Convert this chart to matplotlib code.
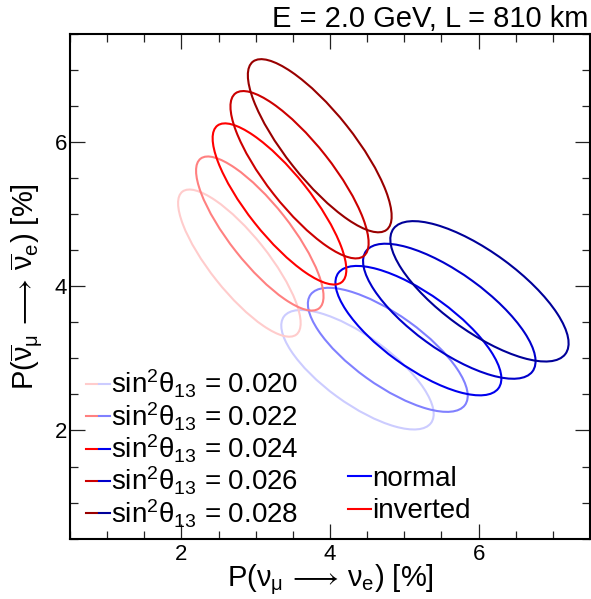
import numpy as np
import matplotlib
matplotlib.use("Agg")
import matplotlib.pyplot as plt
from matplotlib.patches import Ellipse
from matplotlib.lines import Line2D
from matplotlib.legend_handler import HandlerTuple
from matplotlib.ticker import MultipleLocator

plt.rcParams['font.family'] = ['Liberation Sans', 'DejaVu Sans']
plt.rcParams['mathtext.fontset'] = 'custom'
plt.rcParams['mathtext.rm'] = 'Liberation Sans'
plt.rcParams['mathtext.it'] = 'Liberation Sans'
plt.rcParams['mathtext.bf'] = 'Liberation Sans:bold'
plt.rcParams['mathtext.default'] = 'regular'
plt.rcParams['mathtext.fallback'] = 'stixsans'

# ---- data ----
sin2_theta13 = ["0.020", "0.022", "0.024", "0.026", "0.028"]

# inverted hierarchy ellipses
inv_cx = [2.78, 3.055, 3.32, 3.59, 3.862]
inv_cy = [4.32, 4.73, 5.14, 5.545, 5.947]
inv_hx = [0.825, 0.858, 0.90, 0.93, 0.968]
inv_hy = [1.02, 1.068, 1.117, 1.16, 1.20]
inv_rho = [-0.815, -0.815, -0.815, -0.815, -0.815]

# normal hierarchy ellipses
nor_cx = [4.37, 4.778, 5.19, 5.606, 6.012]
nor_cy = [2.842, 3.118, 3.384, 3.653, 3.929]
nor_hx = [1.026, 1.076, 1.117, 1.161, 1.20]
nor_hy = [0.828, 0.86, 0.897, 0.936, 0.973]
nor_rho = [-0.74, -0.74, -0.74, -0.74, -0.74]

red_colors = ["#ffcccc", "#ff8080", "#ff0000", "#cc0000", "#990000"]
blue_colors = ["#ccccff", "#8080ff", "#0000ee", "#0000cc", "#000099"]

title = "E = 2.0 GeV, L = 810 km"
xlabel = r"P(ν$_{μ}\,\longrightarrow\,$ν$_{e}$) [%]"
ylabel = r"P($\overline{ν}_{μ}\,\longrightarrow\,\overline{ν}_{e}$) [%]"


def ellipse_params(hx, hy, rho):
    c = np.array([[hx * hx, rho * hx * hy], [rho * hx * hy, hy * hy]])
    w, v = np.linalg.eigh(c)
    vec = v[:, 1]
    ang = np.degrees(np.arctan2(vec[1], vec[0]))
    return 2 * np.sqrt(w[1]), 2 * np.sqrt(w[0]), ang


W, H = 591, 599
fig = plt.figure(figsize=(W / 100, H / 100), dpi=100)
ax = fig.add_axes([70 / W, 1 - 538.7 / H, 520 / W, 505 / H])
ax.set_xlim(0.5, 7.5)
ax.set_ylim(0.5, 7.5)

lw = 1.5
for i in range(5):
    for cx, cy, hx, hy, rho, col in [
        (nor_cx[i], nor_cy[i], nor_hx[i], nor_hy[i], nor_rho[i], blue_colors[i]),
        (inv_cx[i], inv_cy[i], inv_hx[i], inv_hy[i], inv_rho[i], red_colors[i]),
    ]:
        wd, ht, ang = ellipse_params(hx, hy, rho)
        ax.add_patch(Ellipse((cx, cy), wd, ht, angle=ang, fill=False,
                             edgecolor=col, lw=lw))

ax.xaxis.set_major_locator(MultipleLocator(2))
ax.xaxis.set_minor_locator(MultipleLocator(0.5))
ax.yaxis.set_major_locator(MultipleLocator(2))
ax.yaxis.set_minor_locator(MultipleLocator(0.5))
ax.tick_params(which='both', direction='in', top=True, right=True,
               width=0.9, color='#222222')
ax.tick_params(which='major', length=11, labelsize=16)
ax.tick_params(axis='x', which='major', pad=3.6)
ax.tick_params(axis='y', which='major', pad=2)
ax.tick_params(which='minor', length=6)
for s in ax.spines.values():
    s.set_linewidth(1.5)

ax.set_xlabel(xlabel, fontsize=21)
ax.xaxis.set_label_coords(0.5, -0.094, transform=ax.transAxes)
ax.xaxis.label.set_va('baseline')
ax.set_ylabel(ylabel, fontsize=21)
ax.yaxis.set_label_coords(-0.05, 0.5, transform=ax.transAxes)

fig.text(588 / W, 1 - 27 / H, title, ha='right', va='baseline', fontsize=21)

# legend 1: sin^2 theta13 values
handles1 = []
for i in range(5):
    r = Line2D([], [], color=red_colors[i], lw=lw)
    b = Line2D([], [], color=blue_colors[i], lw=lw)
    handles1.append((r, b))
labels1 = [r"sin$^{2}$θ$_{13}$ = " + s for s in sin2_theta13]
leg1 = ax.legend(handles1, labels1, handler_map={tuple: HandlerTuple(ndivide=None, pad=0.1)},
                 loc='upper left', bbox_to_anchor=(86 / W, 1 - 368 / H),
                 bbox_transform=fig.transFigure, frameon=False, fontsize=20,
                 handlelength=0.86, handletextpad=0.05, labelspacing=0.0,
                 borderpad=0, borderaxespad=0)
ax.add_artist(leg1)

h_norm = Line2D([], [], color="#0000ff", lw=lw)
h_inv = Line2D([], [], color="#ff0000", lw=lw)
leg2 = ax.legend([h_norm, h_inv], ["normal", "inverted"],
                 loc='upper left', bbox_to_anchor=(348 / W, 1 - 466 / H),
                 bbox_transform=fig.transFigure, frameon=False, fontsize=20,
                 handlelength=0.83, handletextpad=0.05, labelspacing=0.23,
                 borderpad=0, borderaxespad=0)

fig.savefig("out.png", dpi=100)
